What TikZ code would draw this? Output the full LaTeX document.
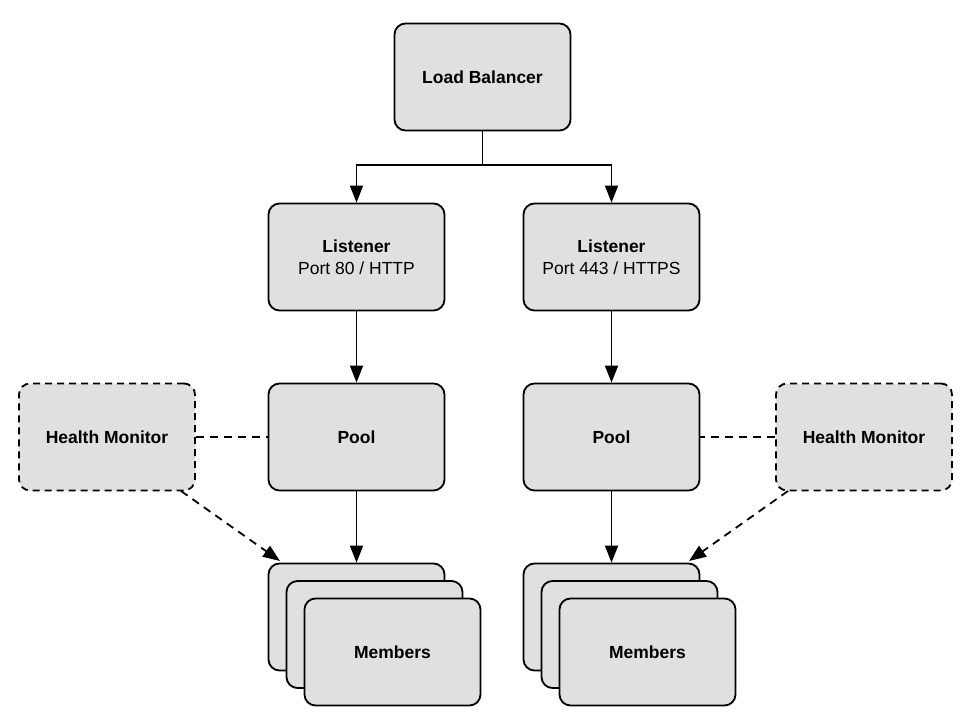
\documentclass[tikz,border=0pt]{standalone}
\usepackage{fontspec}
\setmainfont{Liberation Sans}
\usetikzlibrary{arrows.meta}
\definecolor{boxfill}{HTML}{E0E0E0}
\begin{document}
\begin{tikzpicture}[x=1pt,y=-1pt,
  box/.style={draw=black, line width=1.8pt, fill=boxfill, rounded corners=11pt,
    minimum width=176pt, minimum height=107pt, inner sep=0pt, align=center,
    font=\fontsize{17.5}{22.5}\selectfont},
  dbox/.style={box, dash pattern=on 7pt off 5pt},
  conn/.style={line width=1.8pt, -{Triangle[length=17pt,width=13pt]}},
  dconn/.style={conn, dash pattern=on 8pt off 6pt},
  dline/.style={line width=1.8pt, dash pattern=on 8pt off 6pt}]
\useasboundingbox (0,0) rectangle (969,727);
\node[box] (lb) at (482.5,77) {\textbf{Load Balancer}};
\node[box] (l1) at (356.5,257) {\textbf{Listener}\\Port 80 / HTTP};
\node[box] (l2) at (611.5,257) {\textbf{Listener}\\Port 443 / HTTPS};
\node[box] (p1) at (356.5,437) {\textbf{Pool}};
\node[box] (p2) at (611.5,437) {\textbf{Pool}};
\node[dbox] (h1) at (107,437) {\textbf{Health Monitor}};
\node[dbox] (h2) at (864,437) {\textbf{Health Monitor}};
\node[box] (m1a) at (356.5,617) {};
\node[box] (m1b) at (374.5,634.5) {};
\node[box] (m1c) at (392.5,652) {\textbf{Members}};
\node[box] (m2a) at (611.5,617) {};
\node[box] (m2b) at (629.5,634.5) {};
\node[box] (m2c) at (647.5,652) {\textbf{Members}};
\coordinate (split) at (482.5,165);
\coordinate (t1) at (280,561);
\coordinate (t2) at (689,561);
\coordinate (s1) at (181,491);
\coordinate (s2) at (788,491);
\draw[line width=1.8pt] (lb.south) -- (split);
\draw[conn] (split) -| (l1.north);
\draw[conn] (split) -| (l2.north);
\draw[conn] (l1) -- (p1);
\draw[conn] (l2) -- (p2);
\draw[conn] (p1) -- (m1a);
\draw[conn] (p2) -- (m2a);
\draw[dline] (h1) -- (p1);
\draw[dline] (h2) -- (p2);
\draw[dconn] (s1) -- (t1);
\draw[dconn] (s2) -- (t2);
\end{tikzpicture}
\end{document}
